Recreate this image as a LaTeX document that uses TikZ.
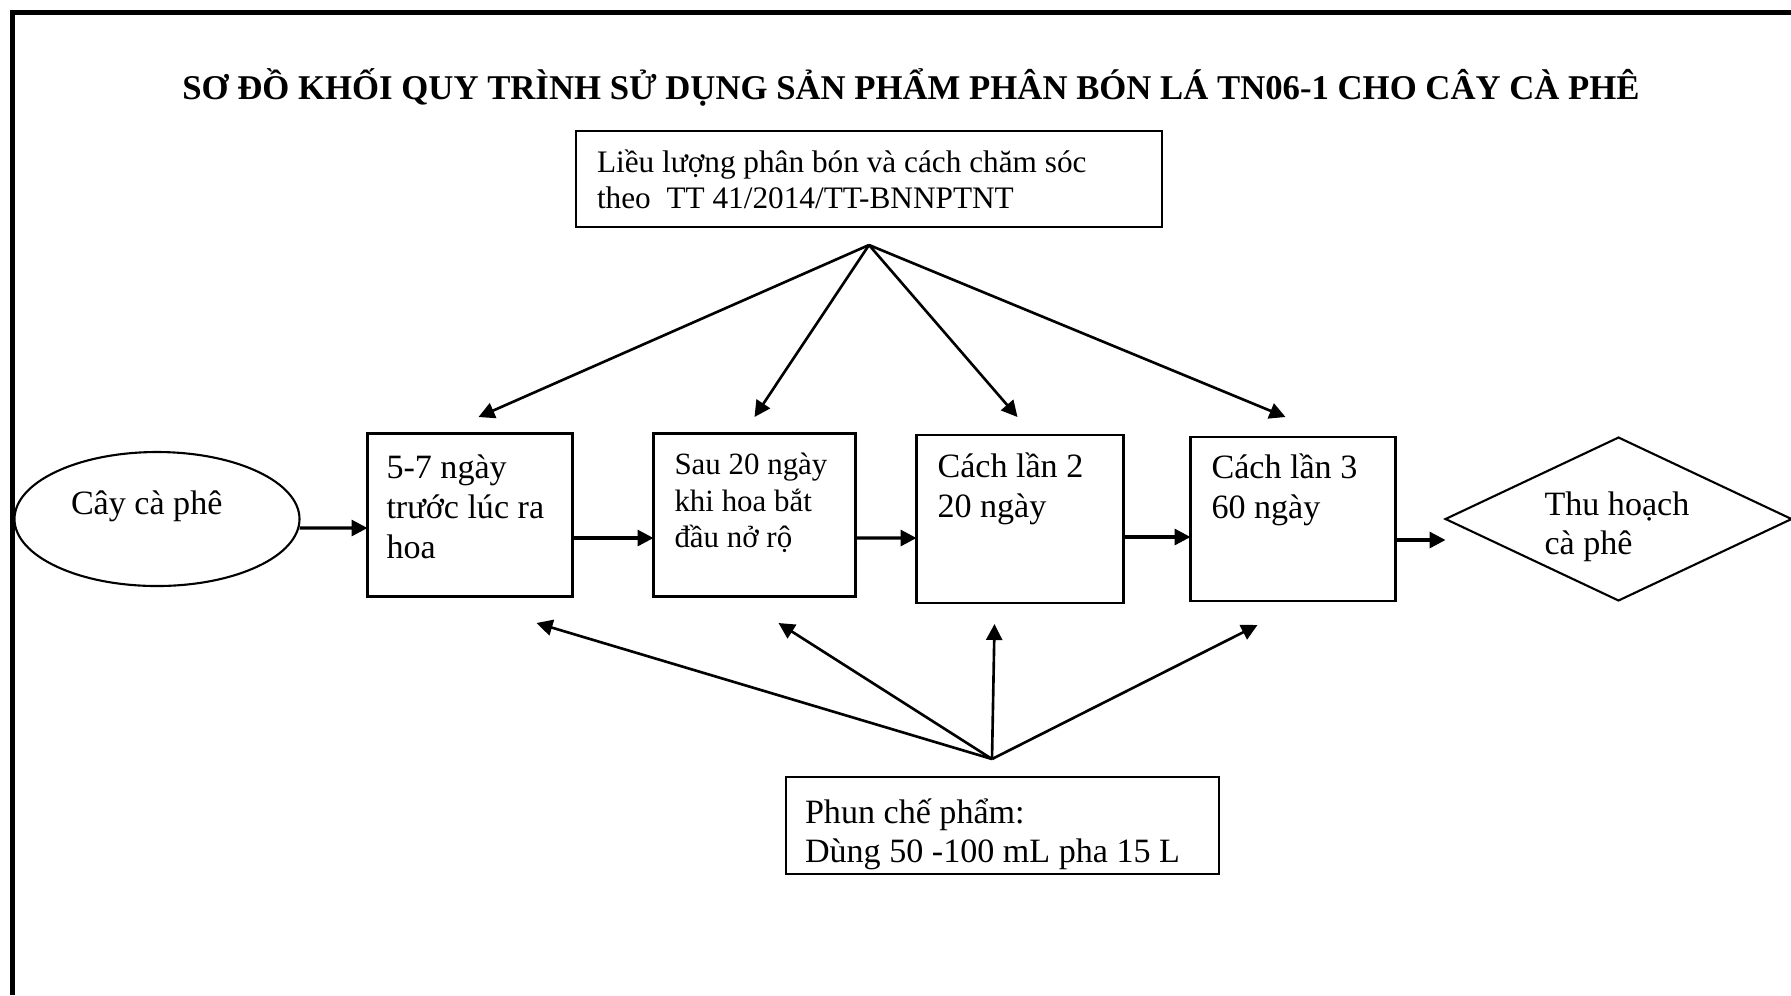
\documentclass[tikz,border=0pt]{standalone}
\usepackage{fontspec}
\setmainfont{Liberation Serif}
\usetikzlibrary{arrows.meta,positioning,calc,shapes.geometric}
\tikzset{
  hop/.style={draw,line width=0.6pt,align=flush left,inner xsep=0pt,inner ysep=0pt,
              outer sep=0pt,font=\fontsize{9.7}{11.4}\selectfont},
  muiten/.style={-{Triangle[length=0.16cm,width=0.16cm]},line width=0.75pt},
  ngang/.style={muiten,line width=0.9pt},
}
\begin{document}
\begin{tikzpicture}[node distance=0.68cm,
          tieude/.style={font=\fontsize{9.88}{12}\selectfont\bfseries,anchor=base}]
        \useasboundingbox (0,0) rectangle (17.91,-9.95);
        \draw[line width=1.4pt] (0.125,-9.95) -- (0.125,-0.125) -- (17.91,-0.125);
        \node[tieude] (td) at (9.11,-0.99) {SƠ ĐỒ KHỐI QUY TRÌNH SỬ DỤNG SẢN PHẨM PHÂN BÓN LÁ TN06-1 CHO CÂY CÀ PHÊ};
        \node[hop,font=\fontsize{8.9}{10.4}\selectfont,minimum width=5.86cm,text width=5.44cm,
              text height=0.41cm,text depth=0.55cm] (lieu) at (8.69,-1.79) {Liều lượng phân bón và cách chăm sóc\\theo~ TT 41/2014/TT-BNNPTNT};
        \node[ellipse,draw,line width=0.6pt,inner sep=0pt,outer sep=0pt,minimum width=2.85cm,
              minimum height=1.34cm,text width=1.72cm,align=flush left,font=\fontsize{9.7}{11.4}\selectfont,
              text height=0.25cm,text depth=0.35cm] (cay) at (1.57,-5.19) {Cây cà phê};
        \node[hop,minimum width=2.05cm,text width=1.67cm,text height=0.45cm,text depth=1.18cm,
              right=0.68cm of cay,yshift=0.04cm] (b1) {5-7 ngày\\trước lúc ra\\hoa};
        \node[hop,font=\fontsize{8.8}{10.4}\selectfont,minimum width=2.02cm,text width=1.60cm,
              text height=0.41cm,text depth=1.22cm,right=0.81cm of b1] (b2) {Sau 20 ngày\\khi hoa bắt\\đầu nở rộ};
        \node[hop,minimum width=2.07cm,text width=1.65cm,text height=0.42cm,text depth=1.26cm,
              right=0.61cm of b2,yshift=-0.04cm] (b3) {Cách lần 2\\20 ngày};
        \node[hop,minimum width=2.05cm,text width=1.63cm,text height=0.41cm,text depth=1.23cm,
              right=0.67cm of b3] (b4) {Cách lần 3\\60 ngày};
        \node[diamond,draw,line width=0.6pt,aspect=2.1,inner sep=0pt,outer sep=0pt,minimum width=3.46cm,
              minimum height=1.63cm,text width=1.48cm,align=flush left,text height=0.30cm,text depth=0.37cm,
              font=\fontsize{9.7}{11.2}\selectfont,right=0.50cm of b4] (thu) {Thu hoạch\\cà phê};
        \node[hop,font=\fontsize{9.7}{11.1}\selectfont,minimum width=4.33cm,text width=3.95cm,
              text height=0.46cm,text depth=0.51cm] (phun) at (10.025,-8.255) {Phun chế phẩm:\\Dùng 50 -100 mL pha 15 L};
        % diem toa cua hai chum mui ten
        \coordinate (tren) at ([yshift=-0.18cm]lieu.south);
        \coordinate (duoi) at ([shift={(-0.105,0.18)}]phun.north);
        \draw[muiten] (tren) -- ([shift={(0.085,0.165)}]b1.north);
        \draw[muiten] (tren) -- ([shift={(0,0.165)}]b2.north);
        \draw[muiten] (tren) -- ([shift={(-0.025,0.18)}]b3.north);
        \draw[muiten] (tren) -- ([shift={(-0.075,0.2)}]b4.north);
        \draw[muiten] (duoi) -- ([shift={(0.665,-0.265)}]b1.south);
        \draw[muiten] (duoi) -- ([shift={(0.24,-0.265)}]b2.south);
        \draw[muiten] (duoi) -- ([shift={(-0.255,-0.21)}]b3.south);
        \draw[muiten] (duoi) -- ([shift={(-0.355,-0.24)}]b4.south);
        % cac buoc noi tiep
        \draw[ngang] ([yshift=-0.09cm]cay.east) -- ([yshift=-0.13cm]b1.west);
        \draw[ngang] ([yshift=-0.23cm]b1.east) -- ([yshift=-0.23cm]b2.west);
        \draw[ngang] ([yshift=-0.23cm]b2.east) -- ([yshift=-0.19cm]b3.west);
        \draw[ngang] ([yshift=-0.18cm]b3.east) -- ([yshift=-0.18cm]b4.west);
        \draw[ngang] ([yshift=-0.21cm]b4.east) -- ([yshift=-0.21cm]thu.west);
      \end{tikzpicture}
\end{document}
